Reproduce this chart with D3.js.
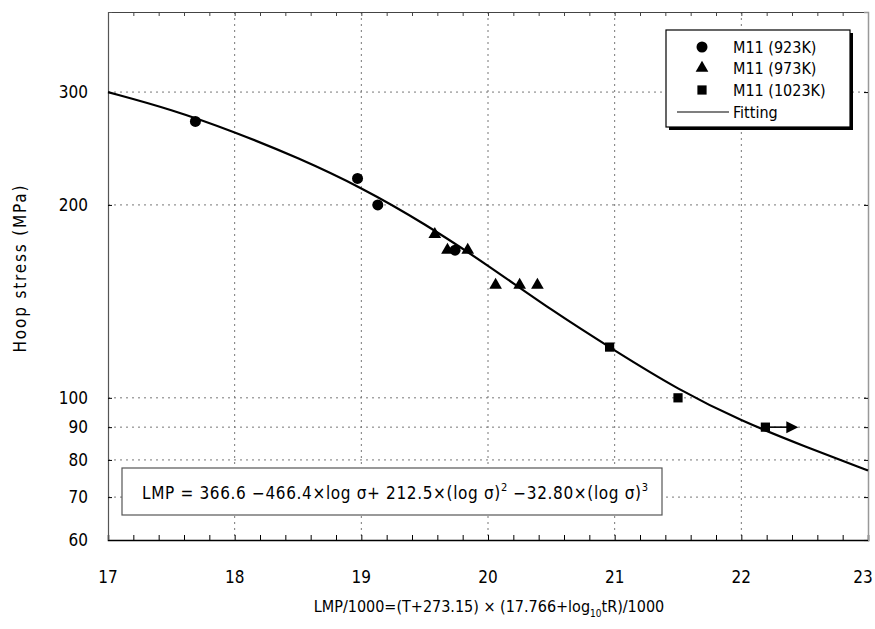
<!DOCTYPE html>
<html>
<head>
<meta charset="utf-8">
<script src="https://cdn.jsdelivr.net/npm/d3@7"></script>
<style>
  body { margin: 0; background: #fff; }
  text { font-family: "DejaVu Sans", sans-serif; font-stretch: condensed; fill: #000; }
</style>
</head>
<body>
<div id="chart"></div>
<script>
// tick labels
const xTicks = [17, 18, 19, 20, 21, 22, 23]
const yTicks = [60, 70, 80, 90, 100, 200, 300]
const yGrid = [70, 80, 90, 100, 200, 300]

// M11 (923K)
const lmp923 = [17.69, 18.97, 19.13, 19.74]
const sig923 = [270, 220, 200, 170]
// M11 (973K)
const lmp973 = [19.58, 19.68, 19.84, 20.06, 20.25, 20.39]
const sig973 = [180, 170, 170, 150, 150, 150]
// M11 (1023K)
const lmp1023 = [20.96, 21.50, 22.19]
const sig1023 = [120, 100, 90]
// running test arrow (last 1023K point)
const arrowLmp = [22.19, 22.45]
const arrowSig = 90

// fitting curve
const fitLmp = [17, 17.5, 18, 18.5, 19, 19.5, 20, 20.5, 21, 21.5, 22, 22.5, 23]
const fitSig = [300, 282, 260, 237, 213, 187, 161, 137, 118.5, 103, 92, 84, 77]

const margin = {top: 12, right: 7, bottom: 89, left: 108},
    W = 875, H = 629,
    width = W - margin.left - margin.right,
    height = H - margin.top - margin.bottom;

const root = d3.select("#chart")
  .append("svg")
    .attr("width", W)
    .attr("height", H)

const svg = root.append("g")
    .attr("transform", `translate(${margin.left},${margin.top})`);

const x = d3.scaleLinear().domain([17, 23]).range([0, width])
const y = d3.scaleLog().domain([60, 400]).range([height, 0])

// grid
svg.append("g")
  .selectAll("line")
  .data(xTicks.slice(1, -1))
  .join("line")
    .attr("x1", d => x(d)).attr("x2", d => x(d))
    .attr("y1", 0).attr("y2", height)
    .attr("stroke", "#777")
    .attr("stroke-dasharray", "2,4")

svg.append("g")
  .selectAll("line")
  .data(yGrid)
  .join("line")
    .attr("x1", 0).attr("x2", width)
    .attr("y1", d => y(d)).attr("y2", d => y(d))
    .attr("stroke", "#777")
    .attr("stroke-dasharray", "2,4")

// minor ticks every 0.2 on top and bottom
const minor = d3.range(17, 23.001, 0.2)
svg.append("g")
  .attr("transform", `translate(0, ${height})`)
  .call(d3.axisBottom(x).tickValues(minor).tickSize(-5).tickFormat(""))
  .call(g => g.select(".domain").attr("stroke", "#000").attr("stroke-width", 1.5))

svg.append("g")
  .call(d3.axisTop(x).tickValues(minor).tickSize(-4).tickFormat(""))
  .call(g => g.select(".domain").attr("stroke", "#444"))
  .call(g => g.selectAll(".tick line").attr("stroke", "#444"))

svg.append("g")
  .call(d3.axisLeft(y).tickValues(yTicks).tickSize(-4).tickFormat(""))
  .call(g => g.select(".domain").attr("stroke", "#555").attr("stroke-width", 1.2))

svg.append("g")
  .attr("transform", `translate(${width}, 0)`)
  .call(d3.axisRight(y).tickValues(yTicks).tickSize(-4).tickFormat(""))
  .call(g => g.select(".domain").attr("stroke", "#999").attr("stroke-width", 1.5))

// tick labels
svg.append("g")
  .selectAll("text")
  .data(xTicks)
  .join("text")
    .attr("x", d => Math.min(x(d), width - 5))
    .attr("y", height + 43)
    .attr("text-anchor", "middle")
    .style("font-size", "17px")
    .text(d => d)

svg.append("g")
  .selectAll("text")
  .data(yTicks)
  .join("text")
    .attr("x", -20)
    .attr("y", d => y(d))
    .attr("dy", "0.36em")
    .attr("text-anchor", "end")
    .style("font-size", "17px")
    .text(d => d)

// axis titles
root.append("text")
  .attr("transform", "translate(26, 269) rotate(-90)")
  .attr("text-anchor", "middle")
  .attr("textLength", 167)
  .attr("lengthAdjust", "spacing")
  .style("font-size", "17px")
  .text("Hoop stress (MPa)")

const xt = root.append("text")
  .attr("x", 489)
  .attr("y", 612)
  .attr("text-anchor", "middle")
  .style("font-size", "16px")
xt.append("tspan").text("LMP/1000=(T+273.15) × (17.766+log")
xt.append("tspan").attr("dy", 5).style("font-size", "10px").text("10")
xt.append("tspan").attr("dy", -5).text("tR)/1000")

// fitting curve
svg.append("path")
  .datum(fitLmp.map((d, i) => [d, fitSig[i]]))
  .attr("d", d3.line().x(d => x(d[0])).y(d => y(d[1])).curve(d3.curveBasis))
  .attr("fill", "none")
  .attr("stroke", "#000")
  .attr("stroke-width", 2.2)

// symbols
const circ = d3.symbol().type(d3.symbolCircle).size(95)
const tri = d3.symbol().type(d3.symbolTriangle).size(70)
const sq = d3.symbol().type(d3.symbolSquare).size(85)

svg.append("g")
  .selectAll("path")
  .data(lmp923.map((d, i) => [d, sig923[i]]))
  .join("path")
    .attr("transform", d => `translate(${x(d[0])},${y(d[1])})`)
    .attr("d", circ)

svg.append("g")
  .selectAll("path")
  .data(lmp973.map((d, i) => [d, sig973[i]]))
  .join("path")
    .attr("transform", d => `translate(${x(d[0])},${y(d[1])})`)
    .attr("d", tri)

svg.append("g")
  .selectAll("path")
  .data(lmp1023.map((d, i) => [d, sig1023[i]]))
  .join("path")
    .attr("transform", d => `translate(${x(d[0])},${y(d[1])})`)
    .attr("d", sq)

// arrow
const ax0 = x(arrowLmp[0]), ax1 = x(arrowLmp[1]), ay = y(arrowSig)
svg.append("line")
  .attr("x1", ax0).attr("x2", ax1 - 10)
  .attr("y1", ay).attr("y2", ay)
  .attr("stroke", "#000").attr("stroke-width", 1.6)
svg.append("path")
  .attr("d", `M${ax1},${ay} L${ax1 - 12},${ay - 6} L${ax1 - 12},${ay + 6} Z`)
  .attr("fill", "#000")

// legend
const lg = root.append("g")
lg.append("rect").attr("x", 669).attr("y", 33).attr("width", 184).attr("height", 97).attr("fill", "#000")
lg.append("rect").attr("x", 666).attr("y", 30).attr("width", 184).attr("height", 97)
  .attr("fill", "#fff").attr("stroke", "#000").attr("stroke-width", 1.2)

const legItems = [
  {label: "M11 (923K)", sym: circ, yy: 47},
  {label: "M11 (973K)", sym: tri, yy: 68},
  {label: "M11 (1023K)", sym: sq, yy: 90}
]
legItems.forEach(it => {
  lg.append("path").attr("transform", `translate(702,${it.yy})`).attr("d", it.sym)
  lg.append("text").attr("x", 733).attr("y", it.yy).attr("dy", "0.36em")
    .style("font-size", "16px").text(it.label)
})
lg.append("line").attr("x1", 677).attr("x2", 729).attr("y1", 112).attr("y2", 112)
  .attr("stroke", "#000").attr("stroke-width", 1.2)
lg.append("text").attr("x", 733).attr("y", 112).attr("dy", "0.36em")
  .style("font-size", "16px").text("Fitting")

// equation box
const eq = root.append("g")
eq.append("rect").attr("x", 122).attr("y", 468).attr("width", 540).attr("height", 47)
  .attr("fill", "#fff").attr("stroke", "#555").attr("stroke-width", 1.2)
const et = eq.append("text").attr("x", 142).attr("y", 499)
  .attr("textLength", 506).attr("lengthAdjust", "spacing")
  .style("font-size", "17px")
et.append("tspan").text("LMP = 366.6 −466.4×log σ+ 212.5×(log σ)")
et.append("tspan").attr("dy", -8).style("font-size", "11px").text("2")
et.append("tspan").attr("dy", 8).text(" −32.80×(log σ)")
et.append("tspan").attr("dy", -8).style("font-size", "11px").text("3")
</script>
</body>
</html>
